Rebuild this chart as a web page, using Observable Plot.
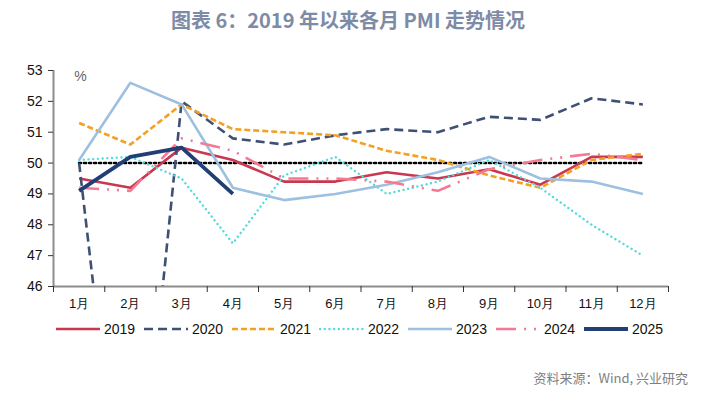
<!DOCTYPE html>
<html><head><meta charset="utf-8">
<script src="https://cdn.jsdelivr.net/npm/d3@7"></script>
<script src="https://cdn.jsdelivr.net/npm/@observablehq/plot@0.6"></script>
<style>
body{margin:0;background:#fff;width:712px;height:395px;position:relative;overflow:hidden;font-family:"Noto Sans CJK SC",sans-serif;}
#title{position:absolute;left:0;top:5px;width:696px;text-align:center;font-size:20px;font-weight:bold;color:#7d8ba6;line-height:30px;}
#chart{position:absolute;left:0;top:48px;}
#legend{position:absolute;left:55px;top:316px;height:26px;display:flex;align-items:center;font-family:"Liberation Sans Narrow","Arial Narrow",sans-serif;font-size:14px;color:#111;}
#legend .it{display:flex;align-items:center;width:88px;}
#legend svg{margin-right:4px;}
#caption{position:absolute;right:24px;top:368px;font-size:13px;color:#7f7f7f;line-height:20px;}
</style></head>
<body>
<div id="title">图表 6：2019 年以来各月 PMI 走势情况</div>
<div id="chart"></div>
<div id="legend"></div>
<div id="caption">资料来源：Wind, 兴业研究</div>
<script>
const months = ["1月","2月","3月","4月","5月","6月","7月","8月","9月","10月","11月","12月"];
const years = ["2019","2020","2021","2022","2023","2024","2025"];
const v2019 = [49.5,49.2,50.5,50.1,49.4,49.4,49.7,49.5,49.8,49.3,50.2,50.2];
const v2020 = [50.0,35.7,52.0,50.8,50.6,50.9,51.1,51.0,51.5,51.4,52.1,51.9];
const v2021 = [51.3,50.6,51.9,51.1,51.0,50.9,50.4,50.1,49.6,49.2,50.1,50.3];
const v2022 = [50.1,50.2,49.5,47.4,49.6,50.2,49.0,49.4,50.1,49.2,48.0,47.0];
const v2023 = [50.1,52.6,51.9,49.2,48.8,49.0,49.3,49.7,50.2,49.5,49.4,49.0];
const v2024 = [49.2,49.1,50.8,50.4,49.5,49.5,49.4,49.1,49.8,50.1,50.3,50.1];
const v2025 = [49.1,50.2,50.5,49.0];
const yTicks = [46,47,48,49,50,51,52,53];
const threshold = 50;

const series = [v2019,v2020,v2021,v2022,v2023,v2024,v2025];
const styles = [
  {stroke:"#c8384f", strokeWidth:2.6, dash:null, cap:"butt"},
  {stroke:"#3e5074", strokeWidth:2.6, dash:"9,5", cap:"butt"},
  {stroke:"#f4a020", strokeWidth:2.6, dash:"6,3", cap:"butt"},
  {stroke:"#4fdbdc", strokeWidth:2.4, dash:"0.01,4.7", cap:"round"},
  {stroke:"#9dc0e1", strokeWidth:2.6, dash:null, cap:"butt"},
  {stroke:"#f47a93", strokeWidth:2.6, dash:"20,8,2,8,2,8", cap:"butt"},
  {stroke:"#213f74", strokeWidth:3.8, dash:null, cap:"butt"}
];
const toRows = (vals, year) => vals.map((v,i)=>({year, m:i+1, value:v}));
const bounds = d3.range(months.length+1).map(i=>i+0.5);
const gray = "#8c8c8c";

const lineMarks = series.map((vals,k)=>Plot.line(toRows(vals, years[k]), {
  x:"m", y:"value", stroke:styles[k].stroke, strokeWidth:styles[k].strokeWidth,
  strokeDasharray:styles[k].dash, strokeLinecap:styles[k].cap, clip:true, strokeLinejoin:"round"
}));

const chart = Plot.plot({
  width:712, height:267,
  marginLeft:53, marginRight:44, marginTop:22, marginBottom:29,
  x:{domain:[0.5, months.length+0.5]},
  y:{domain:[46,53]},
  style:{fontFamily:'"Liberation Sans Narrow","Arial Narrow",sans-serif', fontSize:"13px", color:"#111"},
  marks:[
    Plot.line(months.map((_,i)=>({m:i+1, value:threshold})), {x:"m", y:"value", stroke:"#000", strokeWidth:2.6, strokeDasharray:"2,3"}),
    ...lineMarks,
    Plot.ruleY([46], {stroke:gray, strokeWidth:2}),
    Plot.ruleX([0.5], {stroke:gray, strokeWidth:2}),
    Plot.axisY({ticks:yTicks, tickSize:5, tickPadding:6, stroke:"#333", fontSize:14, tickFormat:d=>String(d), label:null}),
    Plot.axisX({ticks:bounds, tickSize:6, tickFormat:()=>"", stroke:"#333", label:null}),
    Plot.axisX({ticks:months.map((_,i)=>i+1), tickSize:0, tickPadding:12, tickFormat:d=>months[d-1], fontSize:13, label:null}),
    Plot.text(["%"], {x:0.5, y:53, frameAnchor:"middle", dx:27, dy:6, fill:"#666", fontSize:14})
  ]
});
document.getElementById("chart").appendChild(chart);

const legend = document.getElementById("legend");
years.forEach((y,k)=>{
  const s = styles[k];
  const it = document.createElement("div"); it.className="it";
  it.innerHTML = `<svg width="45" height="8"><line x1="1" y1="4" x2="45" y2="4" stroke="${s.stroke}" stroke-width="${s.strokeWidth}" stroke-linecap="${s.cap}" ${s.dash?`stroke-dasharray="${s.dash}"`:""}/></svg><span>${y}</span>`;
  legend.appendChild(it);
});
</script>
</body></html>
